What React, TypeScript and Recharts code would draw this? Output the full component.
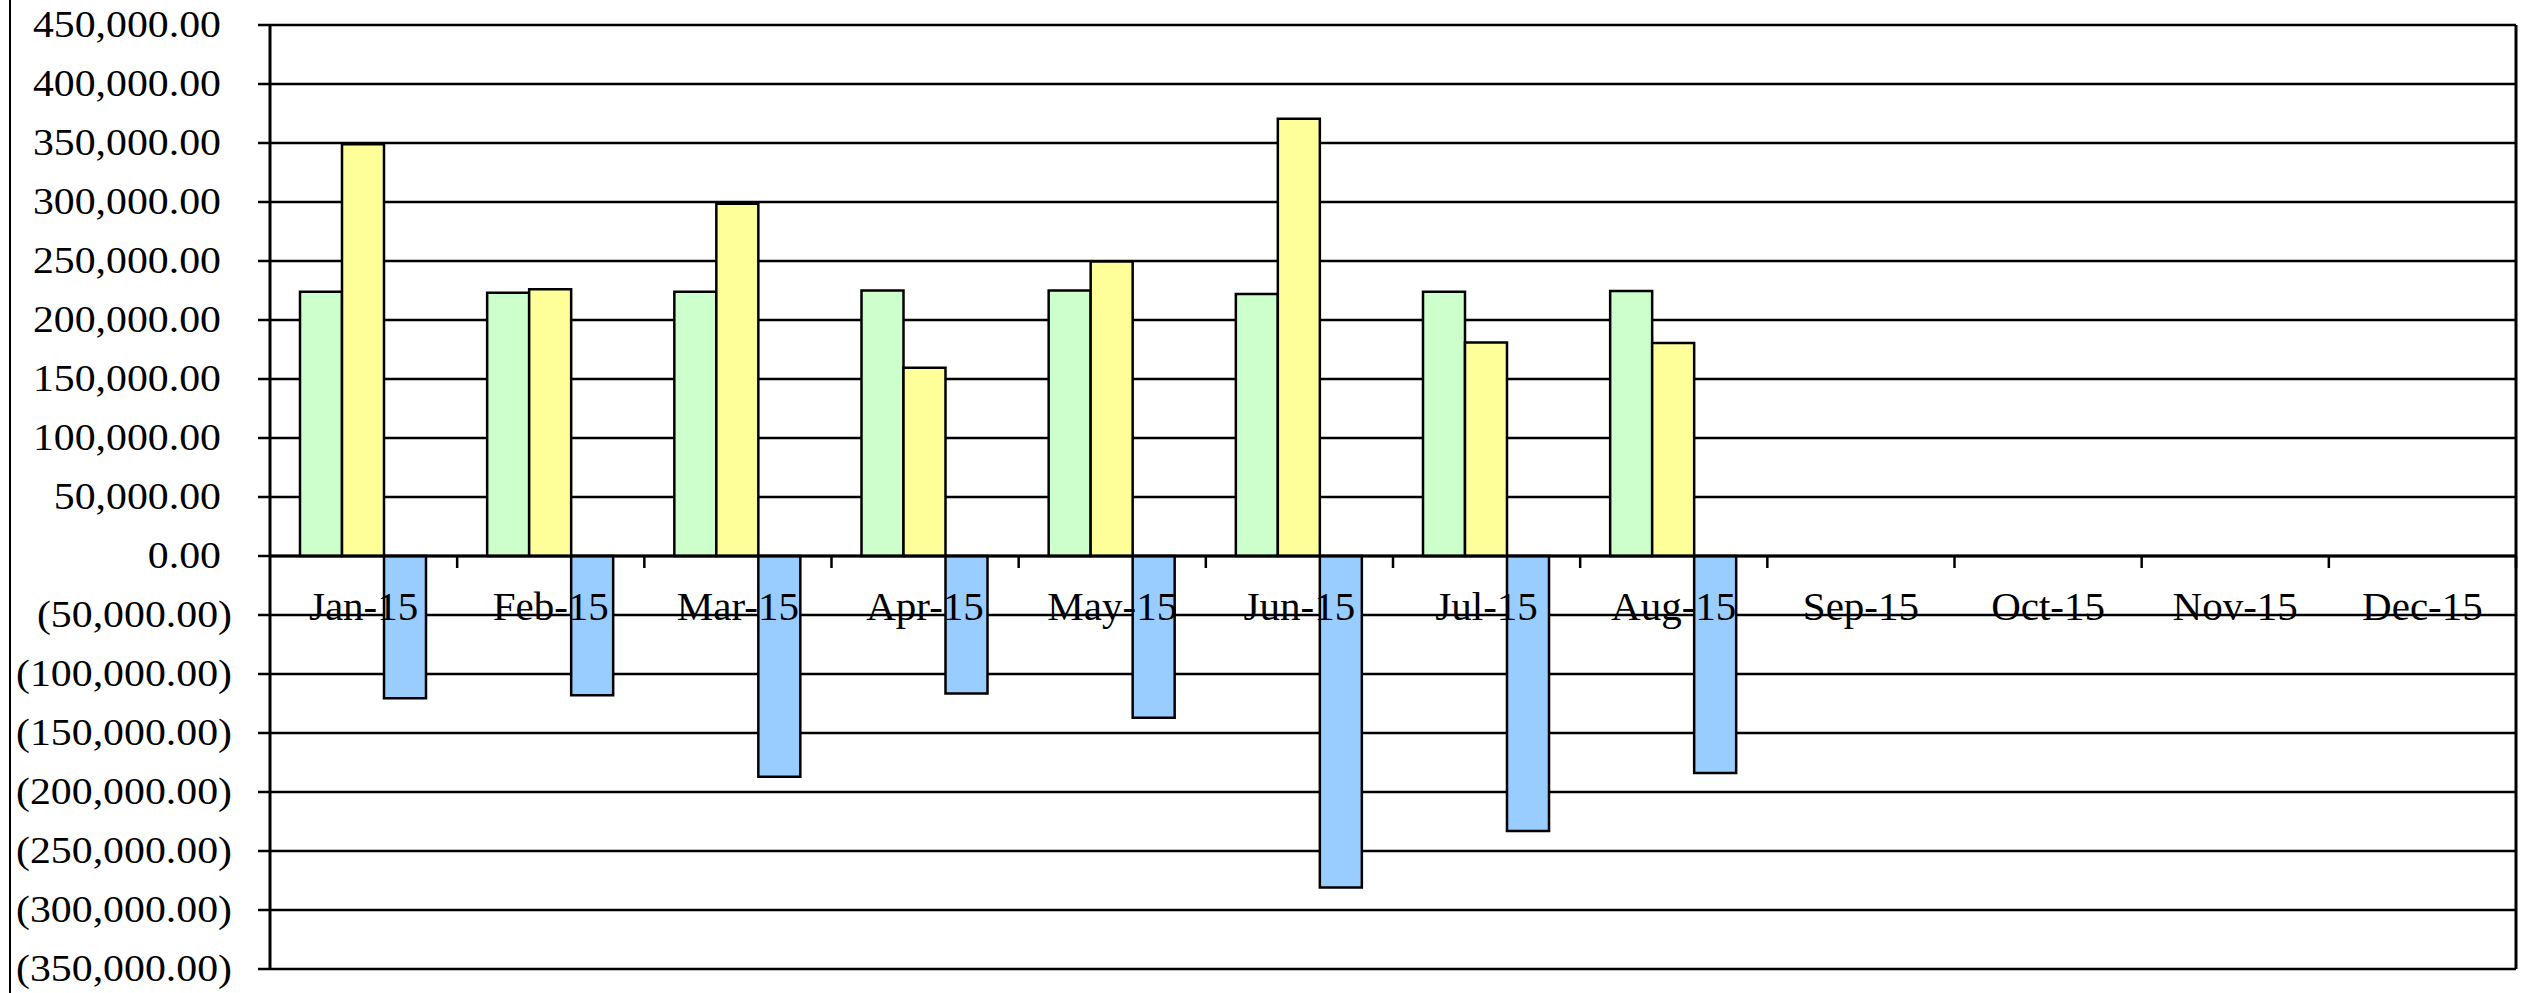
import React from 'react';
import { BarChart, Bar, XAxis, YAxis, CartesianGrid, ReferenceLine } from 'recharts';

const months = ['Jan-15', 'Feb-15', 'Mar-15', 'Apr-15', 'May-15', 'Jun-15', 'Jul-15', 'Aug-15', 'Sep-15', 'Oct-15', 'Nov-15', 'Dec-15'];
const budget = [224000, 223000, 224000, 225000, 225000, 222000, 224000, 224500];
const actual = [349000, 226000, 298500, 159500, 249500, 370500, 181000, 180500];
const variance = [-120500, -118000, -187000, -116500, -137000, -281000, -233000, -184000];
const yTicks = [-350000, -300000, -250000, -200000, -150000, -100000, -50000, 0, 50000, 100000, 150000, 200000, 250000, 300000, 350000, 400000, 450000];

const Y_MIN = -350000;
const Y_MAX = 450000;

const data = months.map((m, i) => ({
  month: m,
  budget: budget[i],
  actual: actual[i],
  variance: variance[i],
}));

const W = 2534;
const H = 993;
const MARGIN = { top: 25, right: 17, bottom: 23, left: 0 };
const Y_AXIS_W = 270;
const R_AXIS_W = 1;
const X_AXIS_H = 1;
const PLOT_W = W - MARGIN.left - MARGIN.right - Y_AXIS_W - R_AXIS_W;
const PLOT_H = H - MARGIN.top - MARGIN.bottom - X_AXIS_H;
const BAND = PLOT_W / months.length;
const ZERO_Y = MARGIN.top + (PLOT_H * (Y_MAX - 0)) / (Y_MAX - Y_MIN);

const FONT = '"Liberation Serif", "Times New Roman", serif';

const fmt = (v: number) => {
  const s = Math.abs(v).toLocaleString('en-US', { minimumFractionDigits: 2, maximumFractionDigits: 2 });
  return v < 0 ? `(${s})` : s;
};

const YTick = (props: any) => {
  const { x, y, payload } = props;
  const v = payload.value as number;
  const shift = v < 0 ? 0 : -11;
  return (
    <g transform={`translate(${x + shift},${y})`}>
      <text transform="scale(1.13,1)" textAnchor="end" dy={12} fontFamily={FONT} fontSize={37} fill="#000">
        {fmt(v)}
      </text>
    </g>
  );
};

const XTick = (props: any) => {
  const { x, payload } = props;
  return (
    <g>
      <line x1={x + BAND / 2} x2={x + BAND / 2} y1={ZERO_Y} y2={ZERO_Y + 12} stroke="#000" strokeWidth={2.5} />
      <text x={x} y={ZERO_Y + 64} textAnchor="middle" fontFamily={FONT} fontSize={41} fill="#000">
        {payload.value}
      </text>
    </g>
  );
};

export default function App() {
  return (
    <div style={{ position: 'absolute', left: 0, top: 0, width: W, height: H, background: '#fff' }}>
      <div style={{ position: 'absolute', left: 9, top: 0, width: 1.5, height: H, background: '#000' }} />
      <BarChart width={W} height={H} data={data} margin={MARGIN} barCategoryGap={30} barGap={0}>
        <CartesianGrid horizontal vertical={false} stroke="#000" strokeWidth={2.5} strokeOpacity={1} />
        <YAxis
          type="number"
          domain={[Y_MIN, Y_MAX]}
          ticks={yTicks}
          interval={0}
          width={Y_AXIS_W}
          tickSize={12}
          tickMargin={26}
          tick={<YTick />}
          axisLine={{ stroke: '#000', strokeWidth: 3 }}
          tickLine={{ stroke: '#000', strokeWidth: 2.5 }}
          allowDataOverflow
        />
        <YAxis
          yAxisId="r"
          orientation="right"
          width={R_AXIS_W}
          tick={false}
          tickLine={false}
          axisLine={{ stroke: '#000', strokeWidth: 3 }}
        />
        <Bar dataKey="budget" name="Budget" fill="#CCFFCC" stroke="#000" strokeWidth={2.5} isAnimationActive={false} />
        <Bar dataKey="actual" name="Actual" fill="#FFFF99" stroke="#000" strokeWidth={2.5} isAnimationActive={false} />
        <Bar dataKey="variance" name="Variance" fill="#99CCFF" stroke="#000" strokeWidth={2.5} isAnimationActive={false} />
        <ReferenceLine y={0} stroke="#000" strokeWidth={3} />
        <XAxis
          dataKey="month"
          height={X_AXIS_H}
          interval={0}
          axisLine={false}
          tickLine={false}
          tick={<XTick />}
        />
      </BarChart>
    </div>
  );
}
